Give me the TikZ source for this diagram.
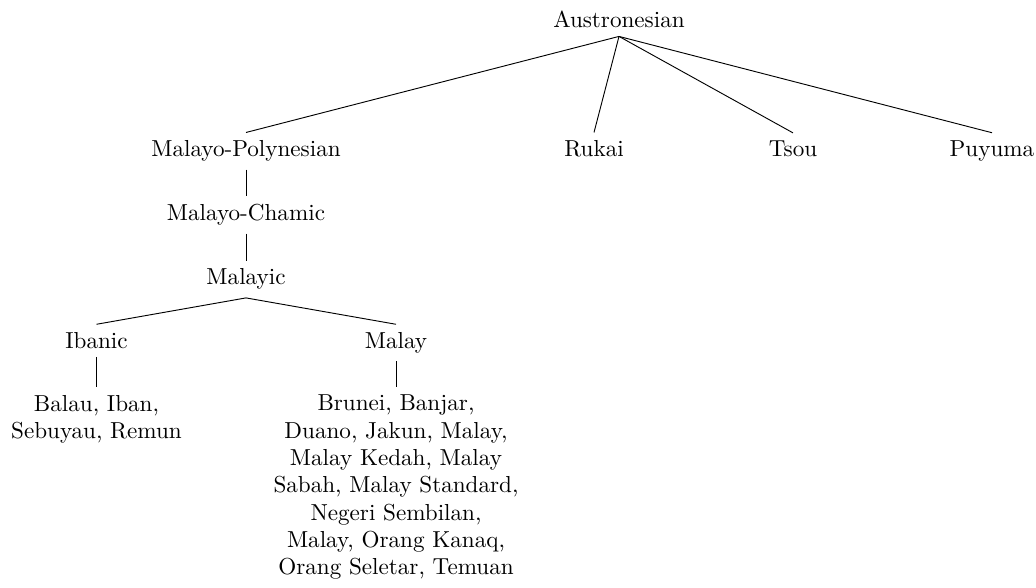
\documentclass[tikz,border=0pt]{standalone}
\begin{document}
\begin{tikzpicture}[x=0.4323pt,y=-0.4323pt,
  every node/.style={font=\fontsize{10pt}{12pt}\selectfont, inner sep=3.33pt},
  lab/.style={anchor=base},
  leaf/.style={anchor=north, align=center, font=\fontsize{10pt}{11.8pt}\selectfont},
  edge/.style={draw=black, line width=0.4pt}]
\useasboundingbox (0,0) rectangle (1036,588);
\node[lab] (aus) at (619,28) {Austronesian};
\node[lab] (mp) at (246,156.7) {Malayo-Polynesian};
\node[lab] (ruk) at (594,156.7) {Rukai};
\node[lab] (tsou) at (793,156.7) {Tsou};
\node[lab] (puy) at (992,156.7) {Puyuma};
\node[lab] (mc) at (246,220.7) {Malayo-Chamic};
\node[lab] (myc) at (246,285) {Malayic};
\node[lab] (iba) at (96.5,348.5) {Ibanic};
\node[lab] (mal) at (396,348.5) {Malay};
\node[leaf] (ibl) at (96.5,387) {Balau, Iban,\\Sebuyau, Remun};
\node[leaf] (mll) at (396,387) {Brunei, Banjar,\\Duano, Jakun, Malay,\\Malay Kedah, Malay\\Sabah, Malay Standard,\\Negeri Sembilan,\\Malay, Orang Kanaq,\\Orang Seletar, Temuan};
\draw[edge] (aus.south) -- (mp.north);
\draw[edge] (aus.south) -- (ruk.north);
\draw[edge] (aus.south) -- (tsou.north);
\draw[edge] (aus.south) -- (puy.north);
\draw[edge] (mp.south) -- (mc.north);
\draw[edge] (mc.south) -- (myc.north);
\draw[edge] (myc.south) -- (iba.north);
\draw[edge] (myc.south) -- (mal.north);
\draw[edge] (iba.south) -- (ibl.north);
\draw[edge] (mal.south) -- (mll.north);
\end{tikzpicture}
\end{document}
